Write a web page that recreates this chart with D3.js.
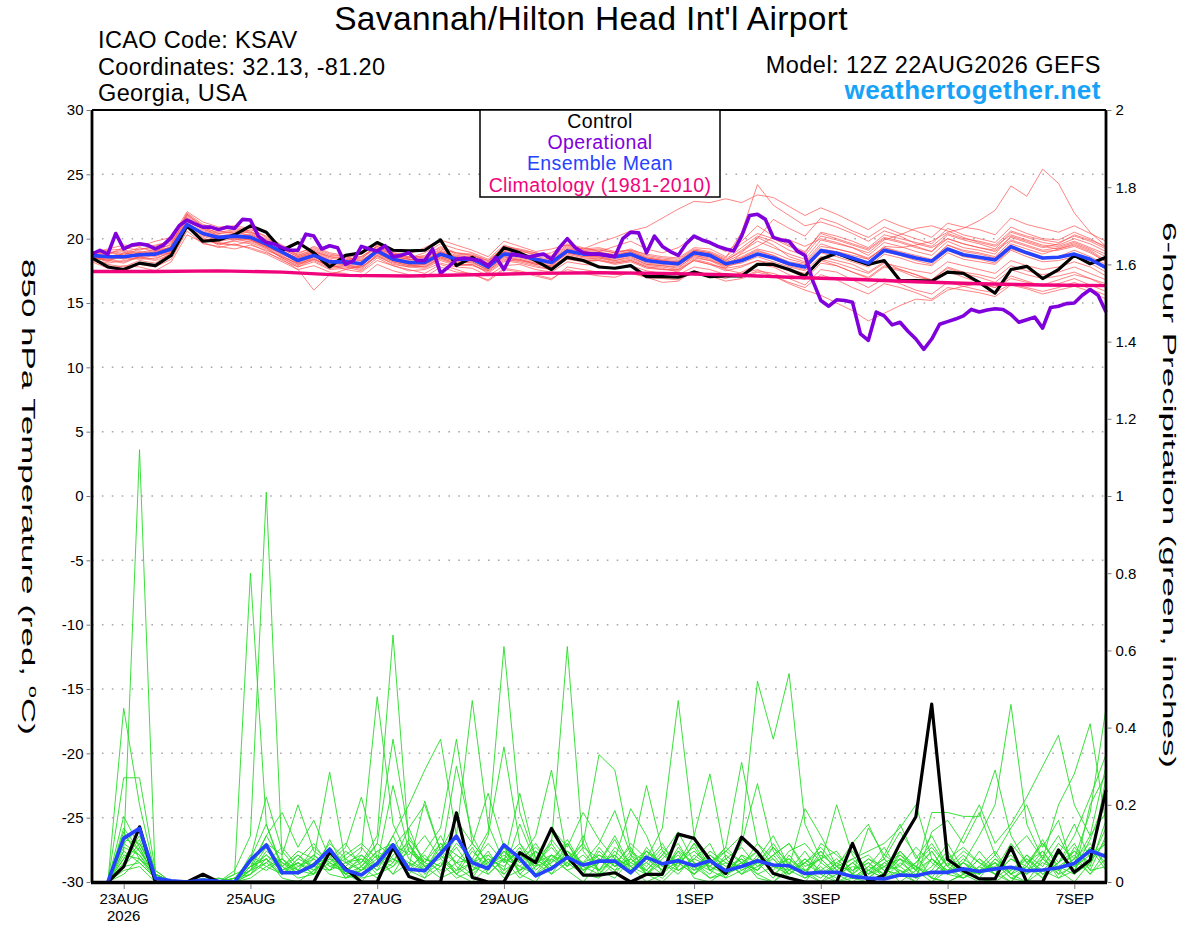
<!DOCTYPE html>
<html>
<head>
<meta charset="utf-8">
<script src="https://cdn.jsdelivr.net/npm/d3@7/dist/d3.min.js"></script>
<style>
body { margin: 0; background: #fff; }
svg { display: block; font-family: "Liberation Sans", Arial, Helvetica, sans-serif; }
</style>
</head>
<body>
<div id="chart"></div>
<script>
// run start: 12Z 22AUG2026, forecast hours
var startUTC = Date.UTC(2026, 7, 22, 12)
var hours6 = d3.range(0, 385, 6)
var hours3 = d3.range(0, 385, 3)
var precipHours = d3.range(6, 385, 6)
var climHours = d3.range(0, 385, 24)

var tickDates = [[2026,7,23],[2026,7,25],[2026,7,27],[2026,7,29],[2026,8,1],[2026,8,3],[2026,8,5],[2026,8,7]]
var tickLabels = ["23AUG","25AUG","27AUG","29AUG","1SEP","3SEP","5SEP","7SEP"]
var tempTicks = [-30,-25,-20,-15,-10,-5,0,5,10,15,20,25,30]
var precipTicks = [0,0.2,0.4,0.6,0.8,1,1.2,1.4,1.6,1.8,2]

// 850 hPa temperature (C)
var controlTemp = [18.5,17.8,17.6,18.1,17.9,18.7,21.0,19.8,19.9,20.3,
  21.0,20.5,19.1,19.7,18.9,17.8,18.7,18.9,19.7,19.1,
  19.05,19.1,19.9,17.9,18.55,17.8,19.3,18.9,18.3,17.6,
  18.55,18.3,17.8,17.7,17.9,17.05,17.05,17.0,17.4,17.05,
  17.1,17.1,18.0,18.0,17.6,17.1,18.4,18.86,18.4,18.0,
  18.3,16.74,16.74,16.7,17.4,17.3,16.6,15.76,17.6,17.85,
  16.9,17.6,18.7,18.05,18.55]
var meanTemp = [18.7,18.6,18.6,18.75,18.8,19.2,21.1,20.4,20.1,20.2,
  20.1,19.6,18.95,18.3,18.7,18.2,18.2,18.05,19.05,18.4,
  18.15,18.15,18.8,18.4,18.4,17.8,18.8,18.7,18.4,18.15,
  19.05,18.8,18.8,18.6,18.8,18.3,18.15,18.05,18.9,18.7,
  18.05,18.3,18.8,18.5,18.05,17.8,19.07,18.86,18.5,18.1,
  19.1,18.8,18.5,18.25,19.2,18.75,18.55,18.35,19.38,18.9,
  18.5,18.55,18.8,18.4,17.75]
var operTemp = [18.8,19.1,18.8,20.4,19.2,19.5,19.6,19.5,
  19.2,19.5,20.1,21.0,21.45,21.15,20.9,20.9,
  20.7,20.9,20.8,21.5,21.45,20.2,19.7,19.6,
  19.3,19.1,19.1,20.35,20.2,19.2,19.45,19.3,
  18.0,18.3,19.4,19.2,19.05,19.45,18.6,18.7,
  18.9,18.3,18.3,19.2,17.3,17.8,18.4,18.5,
  18.4,18.3,17.9,18.55,17.6,18.8,18.7,18.55,
  18.7,18.8,18.4,19.3,20.0,19.3,18.9,18.8,
  18.8,18.7,18.6,20.0,20.5,20.45,18.9,20.2,
  19.4,19.0,18.7,19.6,20.2,19.9,19.7,19.4,
  19.2,19.05,20.2,21.8,21.9,21.5,20.1,19.9,
  19.8,19.05,18.7,16.7,15.2,14.75,15.25,15.2,
  15.05,12.6,12.1,14.3,14.0,13.3,13.5,12.8,
  12.2,11.4,12.2,13.35,13.55,13.75,14.0,14.5,
  14.3,14.45,14.55,14.5,14.1,13.5,13.7,13.9,
  13.05,14.65,14.75,14.95,15.0,15.6,16.05,15.6,
  14.3]
var climTemp = [17.45,17.45,17.5,17.4,17.15,17.1,17.2,17.3,17.35,17.3,17.2,17.0,16.85,16.65,16.5,16.4,16.35]

var tempMembers = [
  [18.6,18.2,18.9,19.3,19.0,19.6,21.6,20.8,20.5,20.7, 20.4,19.8,19.2,18.6,19.0,18.5,18.3,18.6,19.4,18.8, 18.5,18.9,19.6,19.2,18.9,18.4,19.5,19.1,18.7,18.9, 19.6,19.3,19.0,19.4,19.8,19.2,18.9,19.3,20.1,19.6, 19.0,19.8,21.0,20.2,19.5,19.0,20.4,20.0,19.6,19.2, 20.1,19.8,19.4,19.0,20.3,19.9,19.6,19.2,20.5,20.1, 19.7,19.5,20.0,19.6,19.0],
  [18.4,18.0,17.8,18.3,18.1,18.9,20.9,19.9,19.7,19.5, 19.3,18.9,18.4,17.6,16.0,17.2,17.6,17.4,18.3,17.9, 17.5,17.6,18.1,17.8,17.7,17.1,17.9,18.0,17.6,17.4, 18.2,18.0,17.9,17.7,17.9,17.5,17.3,17.2,17.8,17.6, 17.2,17.0,17.5,17.3,16.9,16.4,17.6,17.4,16.8,16.2, 16.9,16.5,16.0,15.7,16.6,16.3,16.0,15.8,16.5,16.2, 15.9,16.2,16.6,16.1,15.6],
  [18.9,19.2,19.5,19.4,19.8,20.1,22.1,21.3,20.9,21.0, 20.8,20.1,19.3,18.8,19.4,18.9,18.7,18.8,19.6,18.9, 18.8,19.3,19.9,19.5,19.1,18.6,19.8,19.4,19.0,19.2, 19.5,19.2,19.7,20.1,20.6,20.9,21.6,22.3,22.9,22.8, 23.1,22.8,23.4,23.2,22.5,21.8,22.4,21.9,21.3,20.7, 21.5,21.0,20.6,20.1,21.2,20.9,20.7,20.3,21.6,21.1, 20.8,20.5,21.0,20.4,19.8],
  [18.5,18.3,18.1,18.6,18.4,19.0,21.3,20.4,19.9,20.3, 20.0,19.4,18.7,18.0,18.5,17.8,17.9,17.6,18.7,18.0, 17.8,17.7,18.3,17.9,18.0,17.3,18.2,18.4,18.0,17.8, 18.7,18.4,18.5,18.2,18.4,17.9,17.8,17.6,18.5,18.3, 17.7,18.9,20.1,19.5,18.6,18.2,19.6,19.2,18.9,18.4, 19.3,18.9,18.6,18.3,19.5,19.0,18.8,18.5,19.6,19.2, 18.8,19.2,19.6,19.1,18.3],
  [18.8,18.9,19.1,18.9,19.2,19.5,21.9,21.0,20.6,20.4, 20.7,20.2,19.5,18.9,19.3,18.8,18.6,18.3,19.2,18.8, 18.6,18.5,19.2,18.9,18.7,18.3,19.2,19.0,18.8,18.5, 19.3,19.1,19.1,18.9,19.2,18.7,18.5,18.4,19.2,19.0, 18.5,20.5,24.2,22.6,21.8,21.0,21.3,20.9,20.4,19.8, 20.6,20.2,19.6,19.3,20.0,19.6,19.3,19.0,19.9,19.5, 19.1,19.3,19.7,19.2,18.6],
  [18.7,18.5,18.8,19.0,18.9,19.4,21.4,20.6,20.3,20.0, 19.9,19.5,18.9,18.2,18.8,18.3,18.2,18.0,19.0,18.5, 18.3,18.1,18.9,18.5,18.3,17.9,18.9,18.6,18.3,18.1, 19.0,18.8,18.7,18.5,18.7,18.2,18.1,18.0,18.8,18.6, 18.0,18.5,19.0,18.7,18.2,18.0,19.2,19.0,18.7,18.4, 19.4,19.3,19.5,19.8,20.5,20.8,21.4,22.2,24.1,23.3, 25.4,24.3,22.0,20.5,19.4],
  [18.3,17.9,17.5,18.0,17.8,18.4,20.6,19.6,19.4,19.2, 19.5,19.1,18.6,18.0,18.3,17.7,17.8,17.5,18.5,17.9, 17.6,17.3,18.0,17.6,17.2,16.8,17.7,17.5,17.2,16.9, 17.6,17.3,17.1,17.0,17.4,17.0,16.6,16.7,17.5,17.1, 16.7,16.9,17.4,17.1,16.5,16.0,15.6,15.0,14.4,13.6, 14.2,14.8,15.3,15.2,16.0,16.3,16.5,16.2,16.9,16.6, 16.4,16.8,17.2,16.9,16.5],
  [18.6,18.7,18.4,18.8,19.1,19.3,21.2,20.2,19.8,20.0, 19.7,19.2,18.5,17.9,18.6,18.0,17.6,17.9,18.9,18.2, 17.9,18.0,18.6,18.2,18.1,17.6,18.6,18.3,18.0,17.9, 18.9,18.6,18.6,18.3,18.6,18.0,17.9,17.7,18.7,18.4, 17.8,18.2,18.8,18.4,17.9,17.6,18.9,18.6,18.2,17.8, 18.8,18.5,18.1,17.9,18.9,18.4,18.2,18.0,19.1,18.6, 18.2,18.3,18.6,18.1,17.4],
  [19.0,18.8,19.3,19.1,19.5,19.8,22.0,21.1,20.8,20.9, 20.6,19.9,19.3,18.7,19.1,18.6,18.5,18.4,19.5,18.9, 18.6,18.6,19.4,18.9,18.8,18.3,19.3,19.1,18.9,18.7, 19.5,19.2,19.3,19.0,19.1,18.8,18.6,18.5,19.3,19.2, 18.6,19.6,20.4,20.0,19.4,18.9,20.5,20.2,19.8,19.3, 20.3,20.0,19.7,19.4,20.4,20.0,19.8,19.5,20.6,20.2, 19.9,19.7,20.2,19.8,19.2],
  [18.2,17.7,17.9,17.8,17.5,18.2,20.3,19.7,19.3,19.6, 19.2,18.8,18.2,17.6,17.9,17.4,17.3,17.0,18.0,17.5, 17.2,17.0,17.8,17.4,17.3,16.7,17.6,17.4,17.1,16.8, 17.8,17.6,17.4,17.2,17.3,17.0,16.9,16.8,17.5,17.2, 16.9,17.4,18.0,17.8,17.2,16.8,18.1,17.9,17.4,17.0, 17.9,17.6,17.2,16.8,17.8,17.4,17.2,16.9,17.9,17.5, 17.2,17.4,17.8,17.3,16.8],
  [18.8,18.5,18.5,18.9,18.6,19.1,21.0,20.5,20.2,19.9, 20.3,19.7,19.0,18.5,18.9,18.4,18.0,18.2,19.2,18.6, 18.4,18.3,18.9,18.6,18.5,17.9,18.9,18.8,18.5,18.3, 19.2,19.0,18.9,18.8,19.0,18.5,18.3,18.2,19.1,18.9, 18.3,19.1,20.0,21.5,20.8,20.2,21.6,21.2,20.6,20.1, 20.9,20.4,20.0,19.6,20.8,20.3,20.0,19.7,20.9,20.4, 20.0,19.9,20.5,20.0,19.3],
  [18.5,18.4,18.7,18.5,18.3,18.8,20.8,20.0,19.6,19.8, 19.6,19.0,18.3,17.8,18.2,17.6,17.7,17.8,18.6,18.1, 17.8,17.9,18.5,18.0,17.9,17.5,18.4,18.2,17.9,17.6, 18.4,18.2,18.3,18.0,18.2,17.7,17.6,17.5,18.3,18.0, 17.5,17.8,18.3,17.9,17.5,17.0,18.3,17.9,17.4,16.9, 17.8,17.5,17.0,16.8,17.7,17.3,17.0,16.6,17.6,17.2, 16.9,17.1,17.4,16.9,16.3],
  [18.9,19.0,18.7,19.2,19.3,19.7,21.8,20.9,20.4,20.6, 20.2,19.6,19.1,18.4,18.8,18.2,18.4,18.1,19.1,18.5, 18.2,18.4,19.0,18.5,18.6,18.0,19.0,18.7,18.5,18.2, 19.1,18.9,19.0,18.7,18.9,18.5,18.3,18.1,19.0,18.8, 18.3,19.0,19.8,19.3,18.8,18.4,19.9,19.6,19.3,18.7, 19.7,19.4,19.0,18.7,19.8,19.3,19.1,18.8,20.2,19.8, 19.4,19.2,19.5,19.0,18.2],
  [18.4,18.1,18.3,18.5,18.7,18.9,21.0,20.1,19.5,19.9, 19.9,19.3,18.6,18.1,18.4,17.9,18.0,17.7,18.8,18.3, 18.0,17.8,18.5,18.1,18.2,17.5,18.5,18.3,18.1,17.8, 18.6,18.3,18.4,18.1,18.3,17.8,17.7,17.4,18.4,18.1, 17.6,17.3,17.6,17.1,16.6,16.2,17.2,16.8,16.2,15.7, 16.5,16.2,15.8,15.3,16.2,16.0,15.8,15.5,16.4,16.1, 15.7,16.0,16.3,15.9,15.3],
  [18.7,18.8,19.0,18.7,19.0,19.3,21.5,20.7,20.4,20.5, 20.5,19.9,19.2,18.6,19.0,18.6,18.4,18.5,19.3,18.7, 18.4,18.5,19.1,18.7,18.6,18.1,19.1,18.9,18.6,18.4, 19.2,19.0,18.9,18.7,19.0,18.5,18.3,18.2,19.0,18.8, 18.2,18.8,19.4,20.1,19.9,19.4,20.0,19.7,19.3,18.9, 19.9,20.3,20.8,21.0,20.6,20.1,19.7,19.4,20.3,19.9, 19.5,19.4,19.8,19.3,18.8],
  [18.6,18.4,18.2,18.6,18.9,19.2,21.2,20.3,20.0,20.1, 20.0,19.4,18.8,18.2,18.7,18.1,18.0,17.9,19.0,18.4, 18.1,18.2,18.7,18.3,18.3,17.7,18.7,18.5,18.2,18.0, 18.8,18.5,18.5,18.3,18.5,18.0,17.9,17.8,18.6,18.3, 17.9,18.1,18.6,18.2,17.8,17.5,18.6,18.3,18.0,17.4, 18.2,17.6,17.2,16.7,17.5,17.0,16.6,16.2,17.1,16.7, 16.3,16.5,16.9,16.4,15.9],
  [18.8,18.6,18.9,18.6,18.8,19.4,21.7,20.8,20.2,20.4, 20.3,19.8,19.0,18.5,18.9,18.3,18.3,18.3,19.1,18.6, 18.4,18.3,19.0,18.6,18.5,18.1,19.0,18.8,18.4,18.2, 19.0,18.8,18.8,18.6,18.8,18.4,18.2,18.1,18.9,18.7, 18.1,18.6,19.2,18.9,18.4,18.1,19.4,19.2,18.9,18.5, 19.3,19.0,18.7,18.4,19.5,19.1,18.9,18.6,19.8,19.4, 19.0,19.1,19.4,18.9,18.2],
  [18.5,18.6,18.5,18.4,18.5,18.9,21.0,19.9,19.6,19.5, 19.8,19.3,18.5,17.8,18.4,17.8,17.9,17.8,18.7,18.2, 17.9,17.8,18.4,18.0,18.0,17.4,18.3,18.1,17.8,17.6, 18.5,18.3,18.3,18.1,18.3,17.8,17.6,17.6,18.3,18.0, 17.7,17.9,18.3,18.1,17.6,17.3,18.4,18.1,17.7,17.3, 18.1,17.8,17.5,17.3,18.2,17.9,17.6,17.3,18.3,17.9, 17.6,17.8,18.2,17.8,17.1],
  [18.9,19.1,19.2,19.5,19.4,19.9,21.9,20.9,20.7,20.8, 20.5,20.0,19.4,18.7,19.2,18.7,18.6,18.6,19.4,18.8, 18.5,18.7,19.3,18.8,18.7,18.2,19.4,19.2,18.9,18.6, 19.4,19.1,19.2,18.9,19.1,18.6,18.4,18.3,19.1,18.9, 18.4,19.3,20.2,19.8,19.1,18.7,20.2,19.9,19.5,19.1, 20.0,19.7,19.3,19.0,20.0,19.6,19.3,19.1,20.1,19.7, 19.3,19.6,20.3,19.9,19.4],
  [18.6,18.3,18.6,18.9,18.8,19.0,21.1,20.3,19.9,20.2, 19.9,19.4,18.9,18.1,18.6,18.0,18.1,18.0,18.9,18.3, 18.0,18.0,18.6,18.2,18.2,17.6,18.6,18.4,18.1,17.9, 18.9,18.6,18.6,18.4,18.7,18.1,18.0,17.9,18.7,18.5, 17.9,18.5,19.1,18.7,18.1,17.9,19.1,18.8,18.4,18.0, 19.0,18.7,18.3,18.0,19.1,18.6,18.4,18.1,19.2,18.8, 18.4,18.6,19.1,18.6,18.0]
]

// 6-hour precipitation (inches), hours 6..384
var controlPrecip = [0,0.04,0.143,0,0,0,0.02,0,
  0,0,0,0,0,0,0.078,0.035,
  0,0,0.091,0.014,0,0,0.179,0.012,
  0,0,0.076,0.05,0.139,0.066,0.018,0.018,
  0.024,0,0.02,0.02,0.124,0.113,0.057,0.022,
  0.116,0.078,0.022,0.01,0,0,0,0.1,
  0,0.018,0.1,0.169,0.461,0.059,0.029,0.008,
  0.008,0.09,0,0,0.083,0.025,0.057,0.238]
var meanPrecip = [0,0.113,0.139,0.01,0.003,0,0.005,0.002,
  0,0.057,0.096,0.024,0.024,0.044,0.085,0.031,
  0.018,0.048,0.096,0.033,0.029,0.074,0.119,0.05,
  0.035,0.096,0.061,0.016,0.035,0.064,0.044,0.054,
  0.054,0.024,0.064,0.047,0.055,0.042,0.055,0.029,
  0.04,0.055,0.044,0.042,0.022,0.025,0.025,0.014,
  0.01,0.008,0.018,0.016,0.025,0.025,0.034,0.027,
  0.034,0.038,0.029,0.031,0.037,0.048,0.081,0.066]

var precipMembers = [
  [0,0.08,1.12,0.01,0,0,0.01,0, 0,0.02,0.06,0.01,0,0.03,0.09,0.02, 0,0.05,0.12,0.03,0.01,0.08,0.02,0, 0.04,0.1,0.02,0,0.06,0.03,0,0.05, 0.12,0.04,0,0.02,0.08,0.01,0,0.03, 0.06,0.01,0,0.04,0.19,0.12,0.04,0.1, 0.15,0.06,0.13,0.07,0.01,0,0.02,0.06, 0.02,0,0.04,0.11,0.03,0,0.05,0.14],
  [0,0.45,0.2,0.02,0,0,0,0.01, 0,0.04,0.12,0.05,0.02,0.06,0.02,0.01, 0.04,0.01,0.07,0.1,0.02,0.05,0.01,0.03, 0.08,0.02,0.06,0.12,0.29,0.06,0.02,0.01, 0.05,0.09,0.02,0,0.04,0.1,0.03,0.01, 0.07,0.02,0,0.03,0.08,0.02,0,0.01, 0.04,0.09,0.02,0,0,0.03,0.07,0.02, 0.05,0.01,0,0.06,0.12,0.04,0.09,0.03],
  [0,0.27,0.27,0.03,0,0,0,0, 0.01,0.06,0.15,0.04,0.01,0.02,0.11,0.03, 0.01,0.02,0.05,0.14,0.04,0.01,0.03,0.09, 0.02,0.06,0.01,0.04,0.1,0.61,0.08,0.03, 0.01,0.06,0.02,0.07,0.13,0.05,0.01,0.02, 0.04,0.1,0.06,0.01,0,0.05,0.02,0, 0.03,0.01,0.08,0.04,0.01,0,0.02,0.06, 0.03,0,0.05,0.1,0.04,0.02,0.2,0.28],
  [0,0.17,0.09,0.01,0,0,0.02,0, 0,0.03,0.12,0.18,0.09,0.16,0.06,0.02, 0.03,0.07,0.02,0.05,0.01,0.04,0.12,0.03, 0.06,0.01,0.03,0.08,0.02,0.05,0.1,0.33, 0.29,0.08,0.03,0.01,0.05,0.02,0.06,0.01, 0.03,0.05,0.01,0.07,0.02,0,0.04,0.01, 0,0.02,0.06,0.01,0.03,0.08,0.02,0, 0.01,0.04,0.02,0.07,0.01,0.03,0.09,0.05],
  [0,0.06,0.12,0.02,0,0,0,0, 0.02,0.8,0.15,0.03,0.05,0.02,0.08,0.01, 0.03,0.06,0.02,0.09,0.05,0.12,0.04,0.01, 0.07,0.03,0.15,0.05,0.02,0.08,0.03,0.05, 0.11,0.03,0.06,0.14,0.47,0.12,0.03,0.06, 0.02,0.05,0.09,0.03,0.01,0.04,0,0.02, 0.05,0.01,0.03,0,0.06,0.02,0.01,0.04, 0.08,0.02,0,0.03,0.07,0.15,0.06,0.1],
  [0,0.04,0.05,0.01,0,0,0,0, 0.03,0.12,1.01,0.06,0.02,0.04,0.07,0.01, 0.02,0.05,0.09,0.14,0.2,0.08,0.16,0.1, 0.05,0.09,0.02,0.06,0.03,0.1,0.04,0.02, 0.07,0.03,0.05,0.02,0.09,0.04,0.01,0.03, 0.05,0.02,0.04,0.06,0.03,0,0.02,0.05, 0.01,0.04,0,0.03,0.06,0.02,0.05,0.01, 0,0.03,0.06,0.02,0.05,0.08,0.03,0.12],
  [0,0.1,0.14,0.03,0,0,0,0, 0,0.06,0.22,0.08,0.03,0.02,0.05,0.03, 0.06,0.02,0.04,0.1,0.03,0.07,0.02,0.05, 0.03,0.08,0.04,0.02,0.07,0.03,0.05,0.1, 0.185,0.07,0.02,0.05,0.03,0.06,0.1,0.02, 0.04,0.08,0.02,0.05,0.01,0.03,0.06,0.02, 0.01,0.05,0.03,0.01,0.04,0.1,0.03,0.01, 0.06,0.02,0.04,0.01,0.08,0.03,0.11,0.22],
  [0,0.12,0.08,0.02,0,0,0,0.01, 0,0.03,0.07,0.04,0.08,0.06,0.285,0.05, 0.03,0.08,0.1,0.02,0.06,0.04,0.09,0.03, 0.05,0.02,0.07,0.04,0.11,0.06,0.02,0.08, 0.04,0.06,0.25,0.08,0.03,0.05,0.02,0.07, 0.03,0.06,0.12,0.04,0.02,0.08,0.03,0.01, 0.04,0.02,0.07,0.03,0,0.05,0.02,0.08, 0.03,0.1,0.05,0.01,0.04,0.07,0.02,0.06],
  [0,0.05,0.1,0.02,0,0,0,0, 0,0.01,0.04,0.02,0.05,0.03,0.06,0.04, 0.08,0.48,0.15,0.06,0.03,0.1,0.05,0.02, 0.06,0.04,0.09,0.02,0.05,0.08,0.03,0.06, 0.02,0.07,0.04,0.09,0.05,0.12,0.28,0.06, 0.02,0.04,0.07,0.1,0.03,0.01,0.05,0.02, 0.06,0.03,0.02,0.05,0.1,0.04,0.01,0.03, 0.07,0.02,0.06,0.03,0.01,0.05,0.12,0.18],
  [0,0.09,0.07,0.01,0,0,0,0, 0.01,0.03,0.09,0.02,0.06,0.1,0.04,0.03, 0.05,0.12,0.64,0.1,0.04,0.06,0.02,0.08, 0.04,0.07,0.03,0.05,0.09,0.04,0.12,0.02, 0.06,0.03,0.08,0.05,0.02,0.07,0.04,0.09, 0.31,0.1,0.04,0.02,0.06,0.03,0.01,0.05, 0.02,0.07,0.04,0.01,0.13,0.16,0.1,0.18, 0.07,0.14,0.2,0.09,0.16,0.02,0.05,0.27],
  [0,0.07,0.06,0.02,0,0,0,0, 0,0.05,0.03,0.06,0.02,0.05,0.08,0.02, 0.04,0.1,0.37,0.12,0.05,0.03,0.07,0.04, 0.02,0.06,0.04,0.08,0.03,0.07,0.05,0.03, 0.08,0.04,0.02,0.06,0.1,0.03,0.05,0.08, 0.12,0.52,0.37,0.54,0.15,0.06,0.02,0.04, 0.03,0.01,0.05,0.02,0.06,0.03,0.01,0.04, 0.02,0.06,0.03,0.08,0.02,0.04,0.07,0.1],
  [0,0.04,0.09,0.01,0,0,0,0, 0.02,0.04,0.06,0.03,0.07,0.04,0.1,0.06, 0.03,0.05,0.25,0.08,0.04,0.07,0.03,0.05, 0.1,0.05,0.23,0.06,0.14,0.09,0.18,0.11, 0.06,0.19,0.12,0.02,0.06,0.04,0.07,0.03, 0.1,0.255,0.08,0.03,0.05,0.02,0.04,0.01, 0.03,0.06,0.02,0.04,0.01,0.07,0.03,0.02, 0.05,0.01,0.03,0.06,0.02,0.09,0.04,0.16],
  [0,0.11,0.1,0.02,0,0,0.02,0, 0,0.06,0.1,0.07,0.2,0.08,0.05,0.09, 0.22,0.06,0.1,0.04,0.07,0.02,0.05,0.06, 0.03,0.08,0.05,0.1,0.04,0.06,0.03,0.07, 0.05,0.02,0.08,0.04,0.06,0.09,0.03,0.05, 0.04,0.06,0.03,0.08,0.1,0.05,0.2,0.07, 0.02,0.04,0.06,0.03,0.08,0.02,0.05,0.03, 0.04,0.07,0.02,0.05,0.03,0.06,0.02,0.08],
  [0,0.03,0.04,0,0,0,0,0, 0,0.02,0.08,0.05,0.03,0.07,0.04,0.06, 0.09,0.04,0.12,0.2,0.29,0.37,0.12,0.05, 0.07,0.03,0.06,0.09,0.05,0.11,0.04,0.06, 0.03,0.08,0.05,0.1,0.03,0.06,0.04,0.08, 0.05,0.03,0.07,0.02,0.05,0.09,0.04,0.06, 0.08,0.1,0.14,0.2,0.06,0.03,0.05,0.02, 0.06,0.03,0.07,0.02,0.05,0.1,0.03,0.04],
  [0,0.13,0.06,0.02,0,0,0,0, 0.01,0.02,0.05,0.09,0.04,0.06,0.03,0.08, 0.05,0.1,0.06,0.03,0.08,0.14,0.37,0.1, 0.05,0.08,0.03,0.06,0.1,0.04,0.07,0.03, 0.09,0.05,0.03,0.07,0.04,0.1,0.06,0.02, 0.05,0.08,0.04,0.06,0.02,0.1,0.07,0.03, 0.06,0.04,0.08,0.03,0.18,0.18,0.17,0.17, 0.29,0.12,0.05,0.08,0.03,0.06,0.1,0.04],
  [0,0.08,0.05,0.01,0,0,0,0, 0,0.04,0.07,0.03,0.05,0.02,0.08,0.05, 0.06,0.03,0.1,0.07,0.12,0.06,0.3,0.12, 0.04,0.06,0.1,0.03,0.07,0.05,0.02,0.09, 0.04,0.06,0.03,0.08,0.05,0.02,0.07,0.04, 0.06,0.03,0.09,0.05,0.02,0.07,0.04,0.03, 0.05,0.02,0.06,0.04,0.08,0.02,0.05,0.12, 0.2,0.46,0.15,0.06,0.03,0.08,0.05,0.11],
  [0,0.06,0.11,0.01,0,0,0,0, 0,0.07,0.04,0.06,0.03,0.09,0.05,0.02, 0.07,0.04,0.08,0.05,0.03,0.09,0.12,0.47, 0.15,0.05,0.08,0.04,0.06,0.1,0.03,0.05, 0.07,0.02,0.09,0.04,0.06,0.03,0.08,0.05, 0.02,0.07,0.04,0.03,0.06,0.02,0.05,0.08, 0.03,0.06,0.02,0.05,0.09,0.04,0.12,0.2, 0.1,0.15,0.22,0.3,0.38,0.2,0.12,0.3],
  [0,0.1,0.07,0.02,0,0,0,0, 0,0.05,0.09,0.04,0.07,0.03,0.06,0.1, 0.04,0.08,0.05,0.11,0.06,0.04,0.1,0.06, 0.13,0.61,0.18,0.06,0.03,0.08,0.05,0.07, 0.04,0.1,0.06,0.03,0.08,0.05,0.03,0.06, 0.09,0.04,0.06,0.02,0.05,0.08,0.03,0.06, 0.02,0.05,0.07,0.04,0.02,0.06,0.09,0.05, 0.03,0.08,0.12,0.06,0.2,0.28,0.41,0.15],
  [0,0.02,0.06,0.01,0,0,0,0, 0.01,0.03,0.05,0.02,0.06,0.04,0.03,0.07, 0.1,0.06,0.04,0.08,0.05,0.1,0.07,0.04, 0.12,0.35,0.1,0.05,0.07,0.04,0.09,0.06, 0.03,0.05,0.08,0.04,0.07,0.02,0.05,0.09, 0.05,0.03,0.07,0.1,0.04,0.06,0.02,0.05, 0.07,0.03,0.04,0.09,0.05,0.02,0.06,0.03, 0.05,0.02,0.07,0.04,0.1,0.06,0.18,0.45],
  [0,0.14,0.08,0.02,0,0,0,0, 0,0.04,0.06,0.02,0.04,0.07,0.03,0.05, 0.07,0.03,0.06,0.04,0.21,0.08,0.05,0.1, 0.23,0.09,0.05,0.08,0.04,0.06,0.1,0.03, 0.06,0.04,0.07,0.03,0.05,0.08,0.04,0.02, 0.07,0.05,0.1,0.04,0.03,0.06,0.08,0.02, 0.14,0.07,0.15,0.06,0.12,0.04,0.08,0.05, 0.02,0.06,0.04,0.1,0.05,0.12,0.22,0.33]
]

var width = 1200, height = 927
var margin = {left: 92, right: 94, top: 110, bottom: 45}
var plotRight = width - margin.right, plotBottom = height - margin.bottom

var svg = d3.select('#chart')
  .append('svg')
  .attr('width', width)
  .attr('height', height)
  .style('background', '#fff')

var hourToDate = h => new Date(startUTC + h * 3600e3)

var x = d3.scaleUtc()
  .domain([hourToDate(0), hourToDate(384)])
  .range([margin.left, plotRight])
var yT = d3.scaleLinear().domain([-30, 30]).range([plotBottom, margin.top])
var yP = d3.scaleLinear().domain([0, 2]).range([plotBottom, margin.top])

var pair = (hours, vals) => vals.map((v, i) => [hours[i], v])
var lineT = d3.line().x(d => x(hourToDate(d[0]))).y(d => yT(d[1]))
var lineP = d3.line().x(d => x(hourToDate(d[0]))).y(d => yP(d[1]))

// dotted grid
svg.append('g')
  .selectAll('line')
  .data(tempTicks.filter(v => v > -30 && v < 30))
  .enter().append('line')
    .attr('x1', margin.left).attr('x2', plotRight)
    .attr('y1', d => yT(d)).attr('y2', d => yT(d))
    .attr('stroke', '#a8a8a8')
    .attr('stroke-width', 1.5)
    .attr('stroke-dasharray', '1.6,8.3')

// precip members
svg.append('g')
    .attr('fill', 'none')
    .attr('stroke', '#26dc26')
    .attr('stroke-width', 0.9)
    .attr('stroke-linejoin', 'round')
  .selectAll('path')
  .data(precipMembers)
  .enter().append('path')
    .attr('d', d => lineP(pair(precipHours, d)))

// temperature members
svg.append('g')
    .attr('fill', 'none')
    .attr('stroke', '#ff4a4a')
    .attr('stroke-width', 0.8)
    .attr('stroke-opacity', 0.85)
    .attr('stroke-linejoin', 'round')
  .selectAll('path')
  .data(tempMembers)
  .enter().append('path')
    .attr('d', d => lineT(pair(hours6, d)))

var thick = [
  {vals: pair(precipHours, controlPrecip), line: lineP, color: '#000', w: 3.2},
  {vals: pair(precipHours, meanPrecip), line: lineP, color: '#2442ff', w: 3.6},
  {vals: pair(hours6, controlTemp), line: lineT, color: '#000', w: 3.2},
  {vals: pair(hours6, meanTemp), line: lineT, color: '#2442ff', w: 3.6},
  {vals: pair(hours3, operTemp), line: lineT, color: '#8000dc', w: 3.6},
  {vals: pair(climHours, climTemp), line: lineT, color: '#f0047c', w: 3.4}
]
svg.append('g')
    .attr('fill', 'none')
    .attr('stroke-linejoin', 'round')
  .selectAll('path')
  .data(thick)
  .enter().append('path')
    .attr('stroke', d => d.color)
    .attr('stroke-width', d => d.w)
    .attr('d', d => d.line(d.vals))

// frame
var frame = svg.append('g').attr('stroke', '#000')
frame.append('line').attr('x1', margin.left).attr('x2', plotRight).attr('y1', margin.top).attr('y2', margin.top).attr('stroke-width', 1.8)
frame.append('line').attr('x1', margin.left - 1).attr('x2', plotRight + 1).attr('y1', plotBottom + 0.5).attr('y2', plotBottom + 0.5).attr('stroke-width', 3.5)
frame.append('line').attr('x1', margin.left).attr('x2', margin.left).attr('y1', margin.top).attr('y2', plotBottom).attr('stroke-width', 2.8)
frame.append('line').attr('x1', plotRight).attr('x2', plotRight).attr('y1', margin.top).attr('y2', plotBottom).attr('stroke-width', 2.8)

// axes
var leftAxis = svg.append('g')
  .attr('transform', `translate(${margin.left - 1.5},0)`)
  .call(d3.axisLeft(yT).tickValues(tempTicks).tickSize(4).tickPadding(3).tickFormat(d => String(d)))
var rightAxis = svg.append('g')
  .attr('transform', `translate(${plotRight + 1.5},0)`)
  .call(d3.axisRight(yP).tickValues(precipTicks).tickSize(4).tickPadding(4).tickFormat(d => String(+d.toFixed(1))))
var bottomAxis = svg.append('g')
  .attr('transform', `translate(0,${plotBottom + 2})`)
  .call(d3.axisBottom(x)
    .tickValues(tickDates.map(d => new Date(Date.UTC(d[0], d[1], d[2]))))
    .tickSize(5).tickPadding(4)
    .tickFormat((d, i) => tickLabels[i]))

;[leftAxis, rightAxis, bottomAxis].forEach(g => {
  g.select('.domain').remove()
  g.selectAll('.tick line').attr('stroke', '#777')
  g.selectAll('.tick text')
    .attr('fill', '#000')
    .style('font-size', '15px')
    .style('font-family', '"Liberation Sans", Arial, sans-serif')
})

svg.append('text')
  .attr('x', x(new Date(Date.UTC(2026, 7, 23))))
  .attr('y', 921)
  .attr('text-anchor', 'middle')
  .style('font-size', '15px')
  .text('2026')

// titles and header
svg.append('text')
  .attr('x', 591).attr('y', 30)
  .attr('text-anchor', 'middle')
  .style('font-size', '33.5px')
  .style('letter-spacing', '0.35px')
  .text("Savannah/Hilton Head Int'l Airport")

var info = ['ICAO Code: KSAV', 'Coordinates: 32.13, -81.20', 'Georgia, USA']
svg.append('g').selectAll('text')
  .data(info)
  .enter().append('text')
    .attr('x', 98)
    .attr('y', (d, i) => 48 + i * 26.5)
    .style('font-size', '23.5px')
    .style('letter-spacing', '0.35px')
    .text(d => d)

svg.append('text')
  .attr('x', 1101).attr('y', 73)
  .attr('text-anchor', 'end')
  .style('font-size', '23.5px')
  .style('letter-spacing', '0.45px')
  .text('Model: 12Z 22AUG2026 GEFS')
svg.append('text')
  .attr('x', 1101).attr('y', 99)
  .attr('text-anchor', 'end')
  .style('font-size', '26px')
  .style('font-weight', 'bold')
  .style('letter-spacing', '0.5px')
  .attr('fill', '#17a2f7')
  .text('weathertogether.net')

var leftTitle = svg.append('text')
  .attr('transform', 'translate(22,497) rotate(90)')
  .attr('text-anchor', 'middle')
  .attr('textLength', 476)
  .attr('lengthAdjust', 'spacingAndGlyphs')
  .style('font-size', '19px')
leftTitle.append('tspan').text('850 hPa Temperature (red, ')
leftTitle.append('tspan').attr('dy', -7).style('font-size', '12px').text('o')
leftTitle.append('tspan').attr('dy', 7).text('C)')

svg.append('text')
  .attr('transform', 'translate(1163,495) rotate(90)')
  .attr('text-anchor', 'middle')
  .attr('textLength', 546)
  .attr('lengthAdjust', 'spacingAndGlyphs')
  .style('font-size', '19px')
  .text('6-hour Precipitation (green, inches)')

// legend
var legendItems = [
  {name: 'Control', color: '#000'},
  {name: 'Operational', color: '#8000dc'},
  {name: 'Ensemble Mean', color: '#2442ff'},
  {name: 'Climatology (1981-2010)', color: '#f0047c'}
]
var legend = svg.append('g')
legend.append('rect')
  .attr('x', 480).attr('y', margin.top)
  .attr('width', 240).attr('height', 87)
  .attr('fill', '#fff')
  .attr('stroke', '#000')
  .attr('stroke-width', 1.5)
legend.selectAll('text')
  .data(legendItems)
  .enter().append('text')
    .attr('x', 600)
    .attr('y', (d, i) => 127.5 + i * 21.4)
    .attr('text-anchor', 'middle')
    .attr('fill', d => d.color)
    .style('font-size', '19.5px')
    .style('letter-spacing', '0.4px')
    .text(d => d.name)
</script>
</body>
</html>
